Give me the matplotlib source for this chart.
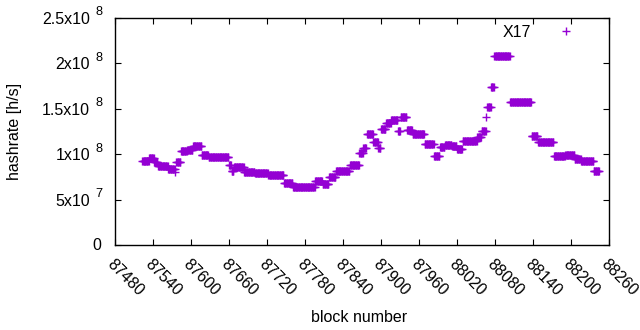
import numpy as np
import matplotlib
matplotlib.use('Agg')
import matplotlib.pyplot as plt
from matplotlib.transforms import offset_copy

plt.rcParams['font.family'] = ['Liberation Sans', 'DejaVu Sans']

# runs of constant hashrate: first block, last block, value [h/s]
run_start = [87523, 87534, 87542, 87548, 87564, 87575, 87577, 87584, 87594, 87603, 87617,
             87628, 87660, 87664, 87668, 87684, 87701, 87722, 87747, 87761, 87775,
             87796, 87808, 87818, 87829, 87851, 87866, 87872, 87878, 87888, 87896, 87900,
             87908, 87916, 87927, 87931, 87941, 87950, 87969, 87984, 87993, 88001, 88012,
             88020, 88029, 88040, 88052, 88059, 88066, 88068, 88074, 88079, 88104, 88138,
             88148, 88173, 88191, 88206, 88216, 88236]
run_end = [87533, 87541, 87547, 87563, 87574, 87575, 87583, 87593, 87602, 87616, 87627,
           87659, 87663, 87667, 87683, 87700, 87721, 87746, 87760, 87774, 87795,
           87807, 87817, 87828, 87850, 87865, 87871, 87876, 87887, 87895, 87899, 87907,
           87915, 87926, 87930, 87940, 87949, 87968, 87983, 87992, 88000, 88011, 88019,
           88028, 88039, 88051, 88058, 88065, 88066, 88073, 88078, 88103, 88137, 88147,
           88172, 88190, 88205, 88215, 88235, 88244]
run_value = [0.93e8, 0.96e8, 0.91e8, 0.87e8, 0.84e8, 0.80e8, 0.91e8, 1.03e8, 1.05e8, 1.09e8, 0.99e8,
             0.97e8, 0.88e8, 0.81e8, 0.86e8, 0.80e8, 0.79e8, 0.77e8, 0.68e8, 0.64e8, 0.64e8,
             0.70e8, 0.67e8, 0.75e8, 0.81e8, 0.88e8, 1.01e8, 1.07e8, 1.22e8, 1.13e8, 1.07e8, 1.28e8,
             1.34e8, 1.38e8, 1.26e8, 1.41e8, 1.27e8, 1.22e8, 1.11e8, 0.98e8, 1.08e8, 1.10e8, 1.09e8,
             1.06e8, 1.14e8, 1.15e8, 1.19e8, 1.26e8, 1.41e8, 1.52e8, 1.74e8, 2.08e8, 1.58e8, 1.20e8,
             1.13e8, 0.98e8, 0.99e8, 0.95e8, 0.92e8, 0.82e8]

blocks = []
hashrate = []
for s, e, v in zip(run_start, run_end, run_value):
    for b in range(s, e + 1):
        blocks.append(b)
        hashrate.append(v)
blocks = np.array(blocks)
hashrate = np.array(hashrate)

xticks = list(range(87480, 88261, 60))
yticks = [0, 5e7, 1e8, 1.5e8, 2e8, 2.5e8]
ytick_base = ['0', '5x10', '1x10', '1.5x10', '2x10', '2.5x10']
ytick_exp = ['', '7', '8', '8', '8', '8']

fs = 11.5
fig = plt.figure(figsize=(6.4, 3.3), dpi=100)
ax = fig.add_axes([115/640, 1 - 245/330, (609 - 115)/640, (245 - 18)/330])

ax.plot(blocks, hashrate, linestyle='None', marker='+', markersize=5.5, mew=1.0,
        color='#9400d3', label='X17')

ax.set_xlim(87480, 88260)
ax.set_ylim(0, 2.5e8)
ax.set_xticks(xticks)
ax.set_xticklabels([str(t) for t in xticks], rotation=-45, ha='left', va='top',
                   rotation_mode='anchor')
ax.set_yticks(yticks)
ax.set_yticklabels([])
ax.tick_params(direction='in', length=4, width=0.8, top=True, right=True,
               labelsize=fs, colors='black')
ax.tick_params(axis='x', pad=8)
for sp in ax.spines.values():
    sp.set_linewidth(1.0)

# gnuplot style y tick labels "1x10 ^8"
ytr = ax.get_yaxis_transform()
for y, b, e in zip(yticks, ytick_base, ytick_exp):
    if e:
        ax.text(0, y, b, fontsize=fs, ha='right', va='baseline',
                transform=offset_copy(ytr, fig=fig, x=-25, y=-6, units='dots'))
        ax.text(0, y, e, fontsize=9.2, ha='left', va='baseline',
                transform=offset_copy(ytr, fig=fig, x=-20, y=2.7, units='dots'))
    else:
        ax.text(0, y, b, fontsize=fs, ha='right', va='baseline',
                transform=offset_copy(ytr, fig=fig, x=-14, y=-5, units='dots'))

ax.set_xlabel('block number', fontsize=fs)
ax.xaxis.set_label_coords(0.494, -0.285)
ax.set_ylabel('hashrate [h/s]', fontsize=fs)
ax.yaxis.set_label_coords(-0.188, 0.5)

ax.legend(loc='center right', frameon=False, markerfirst=False, fontsize=fs,
          handlelength=2, handletextpad=1.2, borderpad=0, borderaxespad=0,
          bbox_to_anchor=(0.946, 0.938))

fig.savefig('out.png', dpi=100)
